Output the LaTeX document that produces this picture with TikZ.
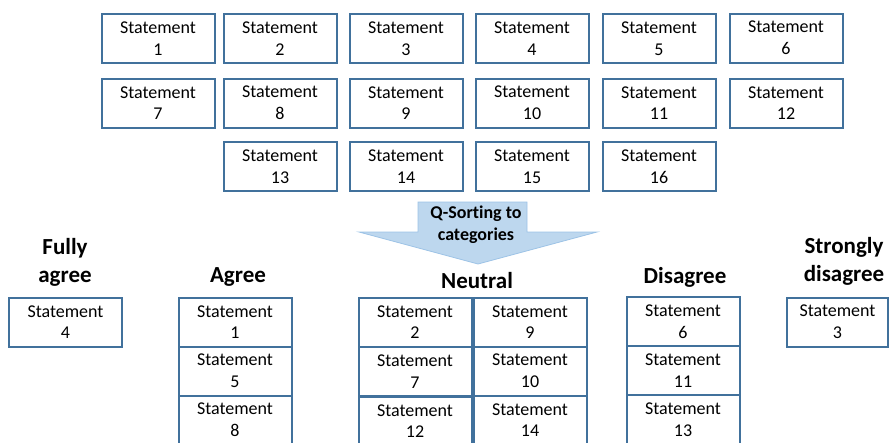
\documentclass[tikz,border=0pt]{standalone}
\usepackage{fontspec}
\setmainfont{Carlito}[Ligatures=NoCommon]
\usepackage{tikz}
\usetikzlibrary{shapes}
\definecolor{boxblue}{HTML}{41719C}
\definecolor{arrowfill}{HTML}{BDD7EE}
\definecolor{arrowline}{HTML}{9DC3E6}

\begin{document}
\begin{tikzpicture}[x=1pt,y=-1pt,line join=miter,
  stmt/.style={draw=boxblue,line width=2pt,rectangle,minimum width=113pt,minimum height=49pt,inner sep=0pt,align=center,font=\fontsize{18}{21.6}\selectfont},
  cat/.style={align=center,font=\fontsize{23}{28}\selectfont\bfseries}]
\clip (0,0) rectangle (890,442);
%% statements to sort
\node (S1) at (158,38.5) [stmt] {Statement\\1};
  \node (S2) at (280,38.5) [stmt] {Statement\\2};
  \node (S3) at (406,38.5) [stmt] {Statement\\3};
  \node (S4) at (532,38.5) [stmt] {Statement\\4};
  \node (S5) at (659,38.5) [stmt] {Statement\\5};
  \node (S6) at (786,38) [stmt] {Statement\\6};
  %
  \node (S7) at (158,103) [stmt] {Statement\\7};
  \node (S8) at (280,103) [stmt] {Statement\\8};
  \node (S9) at (406,103) [stmt] {Statement\\9};
  \node (S10) at (532,103) [stmt] {Statement\\10};
  \node (S11) at (659,103) [stmt] {Statement\\11};
  \node (S12) at (786,103) [stmt] {Statement\\12};
  %
  \node (S13) at (280,166.5) [stmt] {Statement\\13};
  \node (S14) at (406,166.5) [stmt] {Statement\\14};
  \node (S15) at (532,166.5) [stmt] {Statement\\15};
  \node (S16) at (659,166.5) [stmt] {Statement\\16};
%% arrow
\draw [fill=arrowfill,draw=arrowline,line width=0.8pt] (418,202) -- (527,202) -- (527,232) -- (597,232) -- (478,264) -- (359,232) -- (418,232) -- cycle;
\node (Q) at (476,225) [align=center,font=\fontsize{18}{22}\selectfont\bfseries] {Q-Sorting to\\categories};
%% categories
\node (FA) at (65,262) [cat] {Fully\\agree};
  \node (AG) at (238,277) [cat] {Agree};
  \node (NE) at (477,281) [cat] {Neutral};
  \node (DI) at (685,277) [cat] {Disagree};
  \node (SD) at (844,261) [cat] {Strongly\\disagree};
%%
\node (FA1) at (65.5,322) [stmt] {Statement\\4};
%
\node (AG1) at (235,322) [stmt] {Statement\\1};
  \node (AG2) at (235,371) [stmt] {Statement\\5};
  \node (AG3) at (235,420) [stmt] {Statement\\8};
%
\node (NE1) at (415,322) [stmt] {Statement\\2};
  \node (NE2) at (415,371.5) [stmt] {Statement\\7};
  \node (NE3) at (415,421) [stmt] {Statement\\12};
  \node (NE4) at (530,322) [stmt] {Statement\\9};
  \node (NE5) at (530,371) [stmt] {Statement\\10};
  \node (NE6) at (530,420) [stmt] {Statement\\14};
%
\node (DI1) at (683,321.5) [stmt] {Statement\\6};
  \node (DI2) at (683,370.5) [stmt] {Statement\\11};
  \node (DI3) at (683,419.5) [stmt] {Statement\\13};
%
\node (SD1) at (837.5,322) [stmt, minimum width=101pt] {Statement\\3};
%
\end{tikzpicture}
\end{document}
